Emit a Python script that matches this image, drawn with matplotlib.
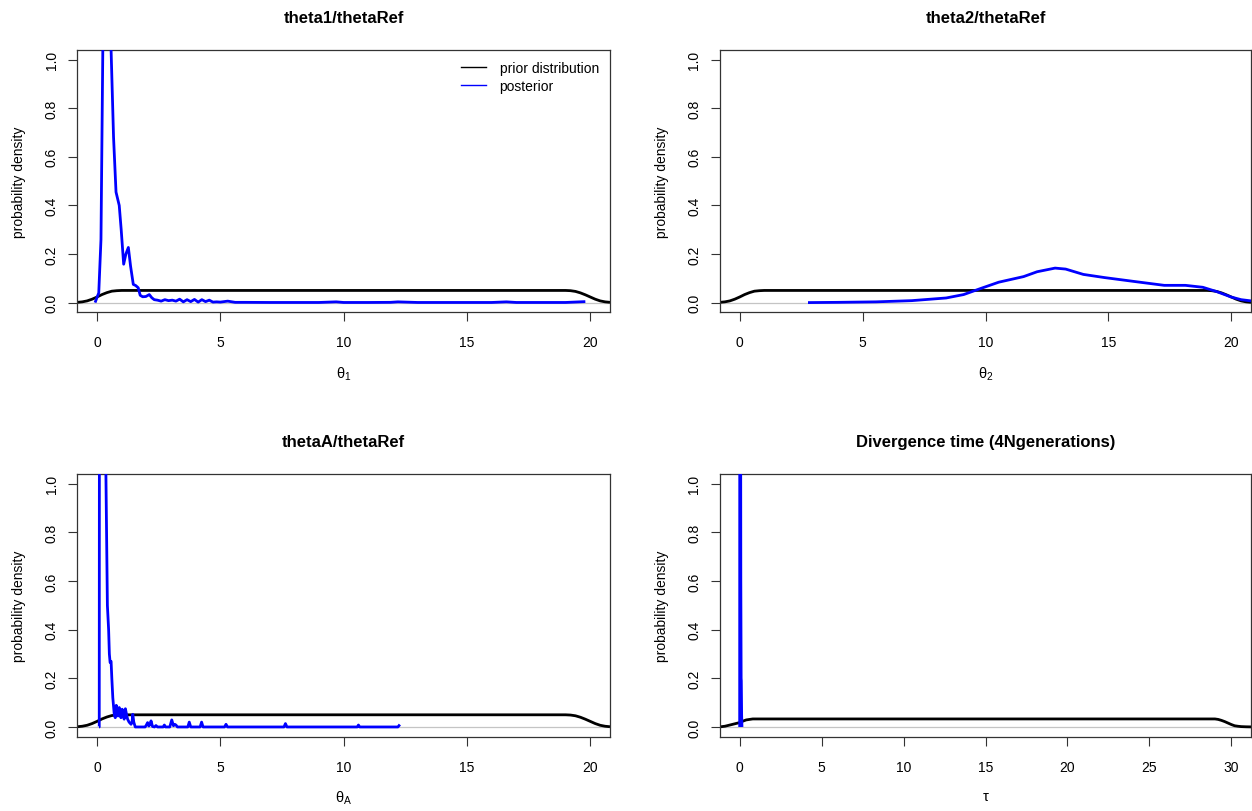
import matplotlib
matplotlib.use("Agg")
import matplotlib.pyplot as plt
from matplotlib.lines import Line2D

plt.rcParams['font.family'] = ['Liberation Sans', 'DejaVu Sans']
plt.rcParams['mathtext.fontset'] = 'custom'
plt.rcParams['mathtext.rm'] = 'Liberation Sans'
plt.rcParams['mathtext.it'] = 'Liberation Sans'
plt.rcParams['mathtext.bf'] = 'Liberation Sans:bold'

# ---------------- data ----------------
titles = ["theta1/thetaRef", "theta2/thetaRef", "thetaA/thetaRef",
          "Divergence time (4Ngenerations)"]
xlabels = [r"$\theta_1$", r"$\theta_2$", r"$\theta_A$", r"$\tau$"]
legend_labels = ["prior distribution", "posterior"]

# prior for theta parameters (uniform 0..20, kernel smoothed)
prior_theta_x = [-0.8, -0.6, -0.4, -0.2, 0.0, 0.2, 0.4, 0.6, 0.8, 1.0,
                 5.0, 10.0, 15.0, 19.0, 19.2, 19.4, 19.6, 19.8, 20.0,
                 20.2, 20.4, 20.6, 20.8]
prior_theta_y = [0.001, 0.003, 0.007, 0.014, 0.023, 0.033, 0.041, 0.047,
                 0.049, 0.050, 0.050, 0.050, 0.050, 0.050, 0.049, 0.046,
                 0.040, 0.032, 0.023, 0.014, 0.007, 0.003, 0.001]

# prior for tau (uniform 0..30)
prior_tau_x = [-1.2, -0.9, -0.6, -0.3, 0.0, 0.2, 0.4, 0.6, 0.8, 1.0,
               10.0, 20.0, 29.0, 29.2, 29.4, 29.6, 29.8, 30.0, 30.2,
               30.4, 30.6, 30.9, 31.2]
prior_tau_y = [0.0005, 0.003, 0.008, 0.013, 0.018, 0.024, 0.029, 0.031,
               0.033, 0.033, 0.033, 0.033, 0.033, 0.031, 0.027, 0.022,
               0.016, 0.010, 0.005, 0.003, 0.0015, 0.0007, 0.0003]

theta1_x = [-0.08, 0.07, 0.16, 0.24, 0.3, 0.4, 0.5, 0.57, 0.67, 0.77, 0.9,
            0.98, 1.08, 1.17, 1.27, 1.36, 1.47, 1.57, 1.67, 1.75, 1.85,
            1.98, 2.12, 2.22, 2.32, 2.45, 2.6, 2.75, 2.9, 3.05, 3.2, 3.35,
            3.5, 3.65, 3.8, 3.95, 4.1, 4.25, 4.4, 4.55, 4.7, 4.85, 5.0,
            5.3, 5.6, 6.0, 7.0, 8.0, 9.0, 9.7, 10.0, 11.0, 11.9, 12.2,
            13.0, 14.0, 15.0, 16.0, 16.6, 17.0, 18.0, 19.0, 19.8]
theta1_y = [0.0, 0.04, 0.26, 1.1, 1.8, 2.2, 1.8, 1.04, 0.68, 0.455, 0.40,
            0.30, 0.158, 0.20, 0.227, 0.15, 0.075, 0.07, 0.061, 0.03, 0.024,
            0.025, 0.033, 0.02, 0.012, 0.01, 0.006, 0.012, 0.008, 0.01,
            0.006, 0.014, 0.003, 0.012, 0.004, 0.013, 0.002, 0.012, 0.004,
            0.01, 0.002, 0.003, 0.002, 0.006, 0.001, 0.001, 0.0005, 0.0005,
            0.0005, 0.003, 0.0005, 0.0005, 0.001, 0.003, 0.0005, 0.0005,
            0.0005, 0.0005, 0.003, 0.0005, 0.0005, 0.0005, 0.004]

theta2_x = [2.78, 4.0, 5.54, 7.0, 8.4, 9.11, 9.83, 10.54, 11.55, 12.1,
            12.83, 13.26, 13.98, 14.84, 16.12, 17.27, 18.13, 18.84, 19.41,
            19.99, 20.4, 20.8]
theta2_y = [0.0, 0.001, 0.003, 0.008, 0.019, 0.033, 0.059, 0.084, 0.107,
            0.127, 0.142, 0.138, 0.116, 0.103, 0.086, 0.071, 0.071, 0.063,
            0.045, 0.023, 0.012, 0.007]

thetaA_x = [0.08, 0.09, 0.1, 0.2, 0.3, 0.36, 0.42, 0.47, 0.5, 0.53, 0.57,
            0.6, 0.64, 0.7, 0.74, 0.78, 0.82, 0.85, 0.9, 0.94, 0.97, 1.02,
            1.06, 1.1, 1.15, 1.2, 1.24, 1.3, 1.38, 1.42, 1.45, 1.49, 1.55,
            1.95, 2.0, 2.05, 2.1, 2.15, 2.19, 2.25, 2.33, 2.39, 2.45, 2.68,
            2.73, 2.78, 2.95, 3.03, 3.1, 3.15, 3.2, 3.26, 3.68, 3.74, 3.8,
            4.18, 4.24, 4.3, 5.17, 5.23, 5.29, 7.58, 7.64, 7.7, 10.55,
            10.6, 10.65, 12.2, 12.28]
thetaA_y = [0.0, 0.0, 2.0, 3.5, 2.5, 1.04, 0.50, 0.40, 0.30, 0.265, 0.27,
            0.20, 0.12, 0.05, 0.038, 0.089, 0.05, 0.045, 0.08, 0.05, 0.038,
            0.073, 0.05, 0.032, 0.075, 0.05, 0.032, 0.02, 0.011, 0.02,
            0.052, 0.02, 0.0, 0.0, 0.008, 0.018, 0.004, 0.01, 0.025, 0.002,
            0.0, 0.006, 0.0, 0.0, 0.008, 0.0, 0.0, 0.029, 0.005, 0.011,
            0.008, 0.0, 0.0, 0.02, 0.0, 0.0, 0.02, 0.0, 0.0, 0.011, 0.0,
            0.0, 0.014, 0.0, 0.0, 0.008, 0.0, 0.0, 0.01]

tau_x = [0.0, 0.01, 0.02, 0.03, 0.05, 0.07, 0.09, 0.10, 0.12, 0.14]
tau_y = [0.0, 3.0, 8.0, 5.0, 2.0, 0.6, 0.2, 0.19, 0.05, 0.0]

x_ticks = [[0, 5, 10, 15, 20], [0, 5, 10, 15, 20], [0, 5, 10, 15, 20],
           [0, 5, 10, 15, 20, 25, 30]]
x_lims = [(-0.8, 20.8), (-0.8, 20.8), (-0.8, 20.8), (-1.2, 31.2)]
y_ticks = [0.0, 0.2, 0.4, 0.6, 0.8, 1.0]
y_ticklabels = ["0.0", "0.2", "0.4", "0.6", "0.8", "1.0"]

priors = [(prior_theta_x, prior_theta_y), (prior_theta_x, prior_theta_y),
          (prior_theta_x, prior_theta_y), (prior_tau_x, prior_tau_y)]
posts = [(theta1_x, theta1_y), (theta2_x, theta2_y), (thetaA_x, thetaA_y),
         (tau_x, tau_y)]

# ---------------- layout ----------------
W, H = 1252, 812
fig = plt.figure(figsize=(W / 100, H / 100), dpi=100)
boxes = [(77.3, 51, 610, 313.3), (720, 51, 1251, 313.3),
         (77.3, 475, 610, 737.7), (720, 475, 1251, 737.7)]

for i in range(4):
    l, t, r, b = boxes[i]
    ax = fig.add_axes([l / W, 1 - b / H, (r - l) / W, (b - t) / H])
    ax.axhline(0, color='#c4c4c4', lw=0.9, zorder=1)
    px, py = priors[i]
    qx, qy = posts[i]
    ax.plot(px, py, color='black', lw=2.0, zorder=2, solid_capstyle='butt')
    ax.plot(qx, qy, color='#0000ff', lw=2.0, zorder=3, solid_capstyle='butt')
    ax.set_xlim(*x_lims[i])
    ax.set_ylim(-0.04, 1.04)
    ax.set_xticks(x_ticks[i])
    ax.set_yticks(y_ticks)
    ax.set_yticklabels(y_ticklabels, rotation=90, va='center')
    ax.tick_params(axis='both', direction='out', length=6.5, width=0.8,
                   labelsize=10, color='#333333')
    ax.tick_params(axis='x', pad=10)
    ax.tick_params(axis='y', pad=7)
    for s in ax.spines.values():
        s.set_linewidth(0.9)
        s.set_color('#333333')
    ax.set_title(titles[i], fontsize=12, fontweight='bold', pad=20)
    ax.set_ylabel("probability density", fontsize=10, labelpad=13)
    ax.set_xlabel(xlabels[i], fontsize=10.5, labelpad=11)
    if i == 0:
        handles = [Line2D([], [], color='black', lw=1.0),
                   Line2D([], [], color='#0000ff', lw=1.0)]
        ax.legend(handles, legend_labels, loc='upper right', frameon=False,
                  fontsize=10, handlelength=1.8, handletextpad=1.0,
                  labelspacing=0.25, borderaxespad=0.4)

fig.savefig("out.png", dpi=100)
